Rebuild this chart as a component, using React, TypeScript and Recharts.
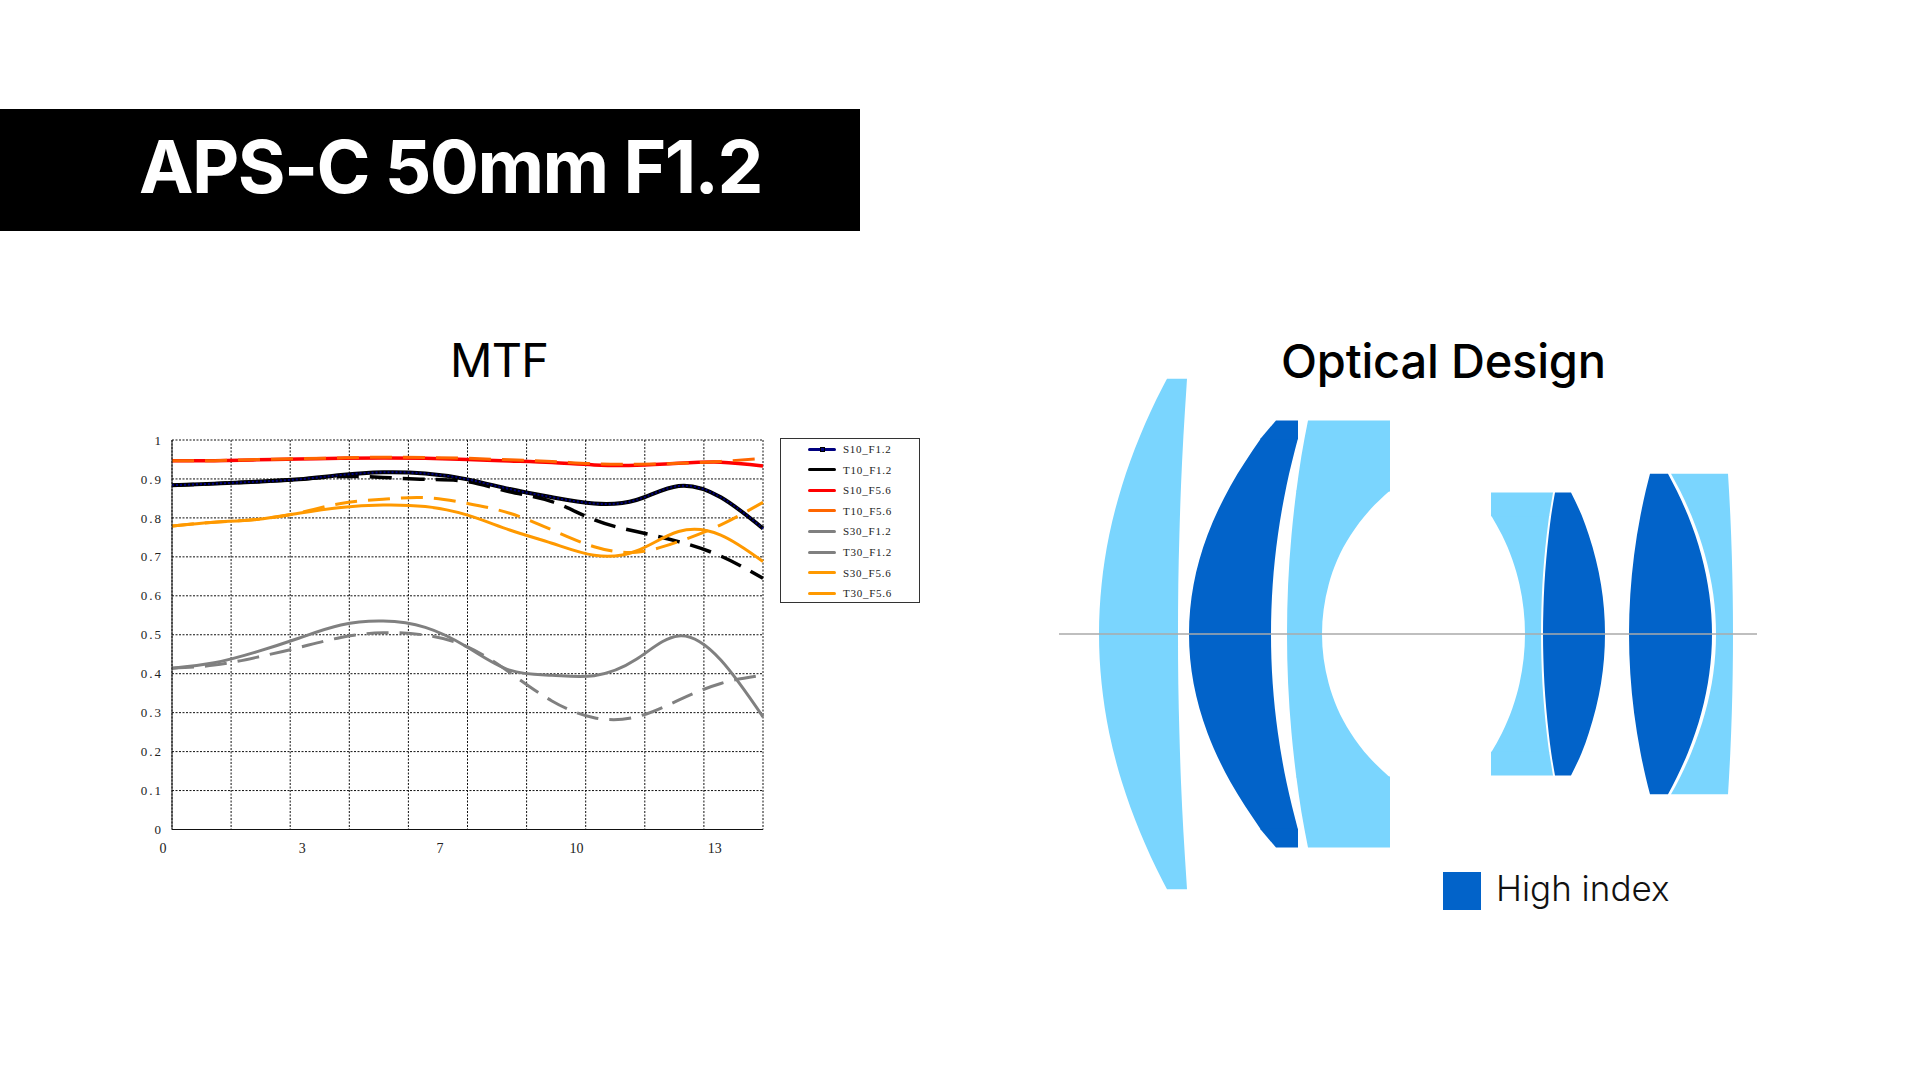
import React from 'react';
import { LineChart, Line, XAxis, YAxis, CartesianGrid, Legend, ComposedChart, Area, ReferenceLine } from 'recharts';

const fieldPositions = [0, 1, 2, 3, 4, 5, 6, 7, 8, 9, 10, 11, 12, 13, 14];
const s10F12 = [0.884, 0.888, 0.893, 0.899, 0.91, 0.917, 0.914, 0.899, 0.874, 0.853, 0.837, 0.846, 0.882, 0.853, 0.773];
const t10F12 = [0.884, 0.888, 0.893, 0.899, 0.906, 0.904, 0.899, 0.893, 0.867, 0.842, 0.795, 0.765, 0.739, 0.702, 0.645];
const s10F56 = [0.947, 0.947, 0.949, 0.951, 0.953, 0.954, 0.953, 0.95, 0.946, 0.942, 0.936, 0.935, 0.94, 0.943, 0.933];
const t10F56 = [0.947, 0.947, 0.95, 0.952, 0.954, 0.956, 0.955, 0.953, 0.949, 0.945, 0.939, 0.938, 0.94, 0.945, 0.953];
const s30F12 = [0.414, 0.428, 0.456, 0.491, 0.525, 0.535, 0.519, 0.468, 0.409, 0.396, 0.395, 0.437, 0.497, 0.435, 0.289];
const t30F12 = [0.414, 0.422, 0.442, 0.467, 0.493, 0.505, 0.499, 0.469, 0.403, 0.33, 0.287, 0.289, 0.332, 0.375, 0.396];
const s30F56 = [0.779, 0.789, 0.796, 0.812, 0.827, 0.833, 0.829, 0.807, 0.769, 0.735, 0.704, 0.715, 0.765, 0.756, 0.688];
const t30F56 = [0.779, 0.789, 0.796, 0.813, 0.837, 0.848, 0.852, 0.837, 0.812, 0.769, 0.726, 0.712, 0.739, 0.782, 0.84];

const gridXTicks = [0, 1.4, 2.8, 4.2, 5.6, 7, 8.4, 9.8, 11.2, 12.6, 14];
const gridYTicks = [0, 0.1, 0.2, 0.3, 0.4, 0.5, 0.6, 0.7, 0.8, 0.9, 1];
const xTickLabels = ['0', '3', '7', '10', '13'];
const legendOrder = ['S10_F1.2', 'T10_F1.2', 'S10_F5.6', 'T10_F5.6', 'S30_F1.2', 'T30_F1.2', 'S30_F5.6', 'T30_F5.6'];

const mtfRows = fieldPositions.map((x, i) => ({
  x,
  S10_F1_2: s10F12[i],
  T10_F1_2: t10F12[i],
  S10_F5_6: s10F56[i],
  T10_F5_6: t10F56[i],
  S30_F1_2: s30F12[i],
  T30_F1_2: t30F12[i],
  S30_F5_6: s30F56[i],
  T30_F5_6: t30F56[i],
}));

// Lens half-profiles: height from the optical axis, front surface, rear surface (axis units).
const lens1H = [0, 5, 10, 15, 20, 25, 25.8];
const lens1F = [4.0, 4.26, 5.02, 6.3, 8.09, 10.38, 10.8];
const lens1R = [11.9, 11.93, 12.04, 12.2, 12.44, 12.75, 12.8];
const lens2H = [0, 5, 10, 15, 19.8];
const lens2F = [13.0, 13.46, 14.85, 17.16, 20.2];
const lens2R = [21.2, 21.37, 21.89, 22.75, 23.9];
const lens2CapH = [19.7, 21.6];
const lens2CapF = [20.1, 21.7];
const lens2CapR = [23.9, 23.9];
const lens3H = [0, 5, 10, 12.5, 14.5];
const lens3F = [22.8, 22.91, 23.25, 23.5, 23.74];
const lens3R = [26.3, 26.97, 29.17, 31.04, 33.1];
const lens3CapH = [14.4, 18, 21.6];
const lens3CapF = [23.73, 24.24, 24.9];
const lens3CapR = [33.1, 33.1, 33.1];
const lens4H = [0, 2.5, 5, 7.5, 10, 12];
const lens4F = [46.6, 46.46, 46.05, 45.34, 44.3, 43.2];
const lens4R = [48.2, 48.24, 48.34, 48.52, 48.77, 49.02];
const lens4CapH = [11.9, 14.3];
const lens4CapF = [43.2, 43.2];
const lens4CapR = [49.01, 49.4];
const lens5H = [0, 2.5, 5, 7.5, 10, 12, 14.3];
const lens5F = [48.4, 48.44, 48.54, 48.72, 48.97, 49.22, 49.6];
const lens5R = [54.6, 54.5, 54.2, 53.69, 52.98, 52.27, 51.2];
const lens6H = [0, 4, 8, 12, 14.5, 16.2];
const lens6F = [57.0, 57.13, 57.51, 58.15, 58.68, 59.1];
const lens6R = [65.3, 65.03, 64.23, 62.89, 61.77, 60.9];
const lens7H = [0, 4, 8, 12, 14.5, 16.2];
const lens7F = [65.7, 65.43, 64.6, 63.23, 62.1, 61.2];
const lens7R = [67.4, 67.37, 67.28, 67.13, 67.0, 66.9];

const LIGHT = '#7AD5FE';
const DARK = '#0263C9';

const mirrored = (h: number[], f: number[], r: number[]) => {
  const up = h.map((v, i) => ({ h: v, range: [f[i], r[i]] }));
  const down = h.slice(1).map((v, i) => ({ h: -v, range: [f[i + 1], r[i + 1]] })).reverse();
  return [...down, ...up];
};
const capUp = (h: number[], f: number[], r: number[]) => h.map((v, i) => ({ h: v, range: [f[i], r[i]] }));
const capDown = (h: number[], f: number[], r: number[]) => h.map((v, i) => ({ h: -v, range: [f[i], r[i]] })).reverse();

const lenses = [
  { name: 'L1', fill: LIGHT, rows: mirrored(lens1H, lens1F, lens1R) },
  { name: 'L2', fill: DARK, rows: mirrored(lens2H, lens2F, lens2R) },
  { name: 'L2a', fill: DARK, rows: capUp(lens2CapH, lens2CapF, lens2CapR) },
  { name: 'L2b', fill: DARK, rows: capDown(lens2CapH, lens2CapF, lens2CapR) },
  { name: 'L3', fill: LIGHT, rows: mirrored(lens3H, lens3F, lens3R) },
  { name: 'L3a', fill: LIGHT, rows: capUp(lens3CapH, lens3CapF, lens3CapR) },
  { name: 'L3b', fill: LIGHT, rows: capDown(lens3CapH, lens3CapF, lens3CapR) },
  { name: 'L4', fill: LIGHT, rows: mirrored(lens4H, lens4F, lens4R) },
  { name: 'L4a', fill: LIGHT, rows: capUp(lens4CapH, lens4CapF, lens4CapR) },
  { name: 'L4b', fill: LIGHT, rows: capDown(lens4CapH, lens4CapF, lens4CapR) },
  { name: 'L5', fill: DARK, rows: mirrored(lens5H, lens5F, lens5R) },
  { name: 'L6', fill: DARK, rows: mirrored(lens6H, lens6F, lens6R) },
  { name: 'L7', fill: LIGHT, rows: mirrored(lens7H, lens7F, lens7R) },
];

const SERIF = '"Liberation Serif", serif';
const UI = 'Inter, "Noto Sans", sans-serif';

const XTick = (props: any) => {
  const { x, y, index } = props;
  if (index % 2 !== 0) return null;
  const slot = index / 2;
  if (slot >= xTickLabels.length) return null;
  const shift = [-9, 12, 31.5, 50, 70][slot];
  return (
    <text x={x + shift} y={y + 12} textAnchor="middle" dominantBaseline="middle" fontFamily={SERIF} fontSize={14} fill="#222">
      {xTickLabels[slot]}
    </text>
  );
};

const MtfLegend = (props: any) => {
  const items = legendOrder.map((n) => props.payload.find((p: any) => p.value === n)).filter(Boolean);
  return (
    <div style={{ width: 140, height: 165, boxSizing: 'border-box', border: '1px solid #333', background: '#fff' }}>
      {items.map((p: any, i: number) => (
        <div key={i} style={{ position: 'absolute', left: 28, top: 1 + i * 20.6, height: 20, display: 'flex', alignItems: 'center' }}>
          <span style={{ position: 'relative', display: 'inline-block', width: 28, height: 3, borderRadius: 2, background: p.color, marginRight: 7 }}>
            {i === 0 ? <span style={{ position: 'absolute', left: 12, top: -1, width: 3, height: 3, border: '1px solid #000' }} /> : null}
          </span>
          <span style={{ fontFamily: SERIF, fontSize: 11, letterSpacing: 0.75, color: '#222' }}>{p.value}</span>
        </div>
      ))}
    </div>
  );
};

const abs = (left: number, top: number, extra: React.CSSProperties = {}): React.CSSProperties => ({
  position: 'absolute',
  left,
  top,
  whiteSpace: 'nowrap',
  ...extra,
});

const curve = 'natural';
const DASH = '22 11';

export default function App() {
  return (
    <div style={{ position: 'absolute', left: 0, top: 0, width: 1920, height: 1080, background: '#fff', overflow: 'hidden' }}>
      <div style={abs(0, 109, { width: 860, height: 122, background: '#000' })} />
      <div style={abs(139, 123, { fontFamily: UI, fontWeight: 700, fontSize: 73, lineHeight: '88px', letterSpacing: -1.55, color: '#fff' })}>APS-C 50mm F1.2</div>
      <div style={abs(450, 330, { fontFamily: UI, fontWeight: 400, fontSize: 47, lineHeight: '60px', letterSpacing: -0.8, color: '#000' })}>MTF</div>
      <div style={abs(1281, 331, { fontFamily: UI, fontWeight: 500, fontSize: 47, lineHeight: '60px', letterSpacing: -0.2, color: '#000' })}>Optical Design</div>

      <div style={abs(120, 420)}>
        <LineChart width={810} height={460} data={mtfRows} margin={{ top: 20, right: 167, bottom: 0, left: 0 }}>
          <CartesianGrid stroke="#111" strokeWidth={1} strokeDasharray="2 1.5" />
          <XAxis
            dataKey="x"
            type="number"
            domain={[0, 14]}
            ticks={gridXTicks}
            interval={0}
            height={50.5}
            tickLine={false}
            axisLine={{ stroke: '#111' }}
            tick={<XTick />}
          />
          <YAxis
            type="number"
            domain={[0, 1]}
            ticks={gridYTicks}
            interval={0}
            width={52}
            tickLine={false}
            axisLine={{ stroke: '#111' }}
            tickSize={0}
            tickMargin={9}
            tick={{ fontFamily: SERIF, fontSize: 13, fill: '#222', letterSpacing: 2 }}
          />
          <Legend
            layout="vertical"
            align="center"
            verticalAlign="middle"
            content={<MtfLegend />}
            wrapperStyle={{ position: 'absolute', left: 660, top: 18, width: 140, height: 165 }}
          />
          <Line name="T10_F1.2" dataKey="T10_F1_2" stroke="#000" strokeWidth={3.5} strokeDasharray={DASH} dot={false} type={curve} isAnimationActive={false} />
          <Line name="S10 base" legendType="none" dataKey="S10_F1_2" stroke="#000" strokeWidth={4} dot={false} type={curve} isAnimationActive={false} />
          <Line name="S10_F1.2" dataKey="S10_F1_2" stroke="#00007F" strokeWidth={2} strokeDasharray="2 2" dot={false} type={curve} isAnimationActive={false} />
          <Line name="S10_F5.6" dataKey="S10_F5_6" stroke="#FF0000" strokeWidth={3.5} dot={false} type={curve} isAnimationActive={false} />
          <Line name="T10_F5.6" dataKey="T10_F5_6" stroke="#FF6600" strokeWidth={3} strokeDasharray={DASH} dot={false} type={curve} isAnimationActive={false} />
          <Line name="S30_F1.2" dataKey="S30_F1_2" stroke="#808080" strokeWidth={3} dot={false} type={curve} isAnimationActive={false} />
          <Line name="T30_F1.2" dataKey="T30_F1_2" stroke="#808080" strokeWidth={3} strokeDasharray={DASH} dot={false} type={curve} isAnimationActive={false} />
          <Line name="S30_F5.6" dataKey="S30_F5_6" stroke="#FF9900" strokeWidth={3} dot={false} type={curve} isAnimationActive={false} />
          <Line name="T30_F5.6" dataKey="T30_F5_6" stroke="#FF9900" strokeWidth={3} strokeDasharray={DASH} dot={false} type={curve} isAnimationActive={false} />
        </LineChart>
      </div>

      <div style={abs(1059, 366.5)}>
        <ComposedChart layout="vertical" width={700} height={534} margin={{ top: 0, right: 0, bottom: 0, left: 0 }}>
          <XAxis type="number" dataKey="range" domain={[0, 70]} hide />
          <YAxis type="number" dataKey="h" domain={[-27, 27]} hide />
          <ReferenceLine segment={[{ x: 0, y: 0 }, { x: 69.8, y: 0 }]} stroke="#aaa" strokeWidth={1.5} />
          {lenses.map((l) => (
            <Area
              key={l.name}
              data={l.rows}
              dataKey="range"
              type="monotoneY"
              fill={l.fill}
              fillOpacity={1}
              stroke="none"
              dot={false}
              activeDot={false}
              isAnimationActive={false}
            />
          ))}
        </ComposedChart>
      </div>

      <div style={abs(1443, 872, { width: 38, height: 38, background: DARK })} />
      <div style={abs(1496, 866, { fontFamily: UI, fontWeight: 300, fontSize: 35, lineHeight: '44px', color: '#111' })}>High index</div>
    </div>
  );
}
